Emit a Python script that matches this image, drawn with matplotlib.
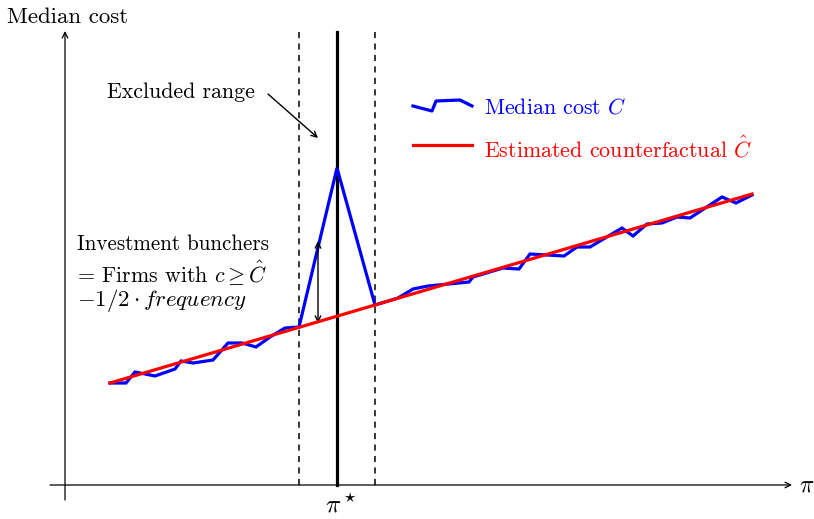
import matplotlib
matplotlib.use("Agg")
import matplotlib.pyplot as plt

plt.rcParams['mathtext.fontset'] = 'cm'
plt.rcParams['font.family'] = ['cmr10', 'DejaVu Serif']
plt.rcParams['axes.unicode_minus'] = False

# ---- data (profit position pi, median cost height above the pi axis) ----
pi_blue = [110, 126, 135, 155, 175, 181, 193, 213, 228, 242, 256, 270, 285, 299,
           337, 375, 398, 413, 428, 469, 473, 503, 519, 530, 564, 577, 590, 622,
           633, 647, 662, 677, 690, 722, 736, 752]
cost_blue = [102, 102, 113, 109, 116, 124, 122, 125, 142, 142, 138, 148, 157, 158,
             317, 180, 187, 196, 199, 203, 208, 217, 216, 231, 229, 238, 238, 257,
             249, 261, 262, 268, 267, 288, 282, 290]
pi_red = [110, 752]
cost_red = [102, 291]
pi_star = 337
pi_lo, pi_hi = 299, 375
y_top = 453

FS = 15.8

fig = plt.figure(figsize=(8.14, 5.19), dpi=100)
ax = fig.add_axes([0, 0, 1, 1])
ax.set_xlim(0, 814)
ax.set_ylim(-34, 485)
ax.axis('off')

# axes arrows
ax.annotate('', xy=(792, 0), xytext=(50, 0),
            arrowprops=dict(arrowstyle='->', lw=0.9, color='black', shrinkA=0, shrinkB=0))
ax.annotate('', xy=(65, 454), xytext=(65, -15),
            arrowprops=dict(arrowstyle='->', lw=0.9, color='black', shrinkA=0, shrinkB=0))
ax.text(7, 468, 'Median cost', fontsize=16.5, ha='left', va='center')
ax.text(799, 0, r'$\pi$', fontsize=17, ha='left', va='center')

# vertical lines
ax.plot([pi_lo, pi_lo], [0, y_top], color='black', lw=1.1, ls=(0, (4, 3.5)))
ax.plot([pi_hi, pi_hi], [0, y_top], color='black', lw=1.1, ls=(0, (4, 3.5)))
ax.plot([pi_star, pi_star], [0, y_top], color='black', lw=2.3)
ax.text(pi_star + 4, -20, r'$\pi^\star$', fontsize=18, ha='center', va='center')

# series
ax.plot(pi_blue, cost_blue, color='#0000ff', lw=2.3, solid_joinstyle='miter', zorder=3)
ax.plot(pi_red, cost_red, color='#ff0000', lw=2.3, zorder=4)

# double arrow (bunching)
ax.annotate('', xy=(318, 244), xytext=(318, 162),
            arrowprops=dict(arrowstyle='<->', lw=1.0, color='black', shrinkA=0, shrinkB=0))

# excluded range annotation
ax.text(107, 393, 'Excluded range', fontsize=FS, ha='left', va='center')
ax.annotate('', xy=(318, 347), xytext=(268, 391),
            arrowprops=dict(arrowstyle='->', lw=1.0, color='black', shrinkA=0, shrinkB=0))

# investment bunchers text
ax.text(77, 241, 'Investment bunchers', fontsize=15.2, ha='left', va='center')
ax.text(77, 212, r'= Firms with $c \geq \hat{C}$', fontsize=FS, ha='left', va='center')
ax.text(77, 184, r'$-1/2 \cdot frequency$', fontsize=16.5, ha='left', va='center')

# legend
leg_x = [413, 432, 436, 460, 472]
leg_y = [379, 374, 384, 385, 379]
ax.plot(leg_x, leg_y, color='#0000ff', lw=2.3)
ax.text(484, 378, r'Median cost $C$', fontsize=FS, color='#0000ff', ha='left', va='center')
ax.plot([413, 472], [340, 340], color='#ff0000', lw=2.3)
ax.text(484, 337, r'Estimated counterfactual $\hat{C}$', fontsize=FS, color='#ff0000',
        ha='left', va='center')

fig.savefig('out.png', dpi=100)
